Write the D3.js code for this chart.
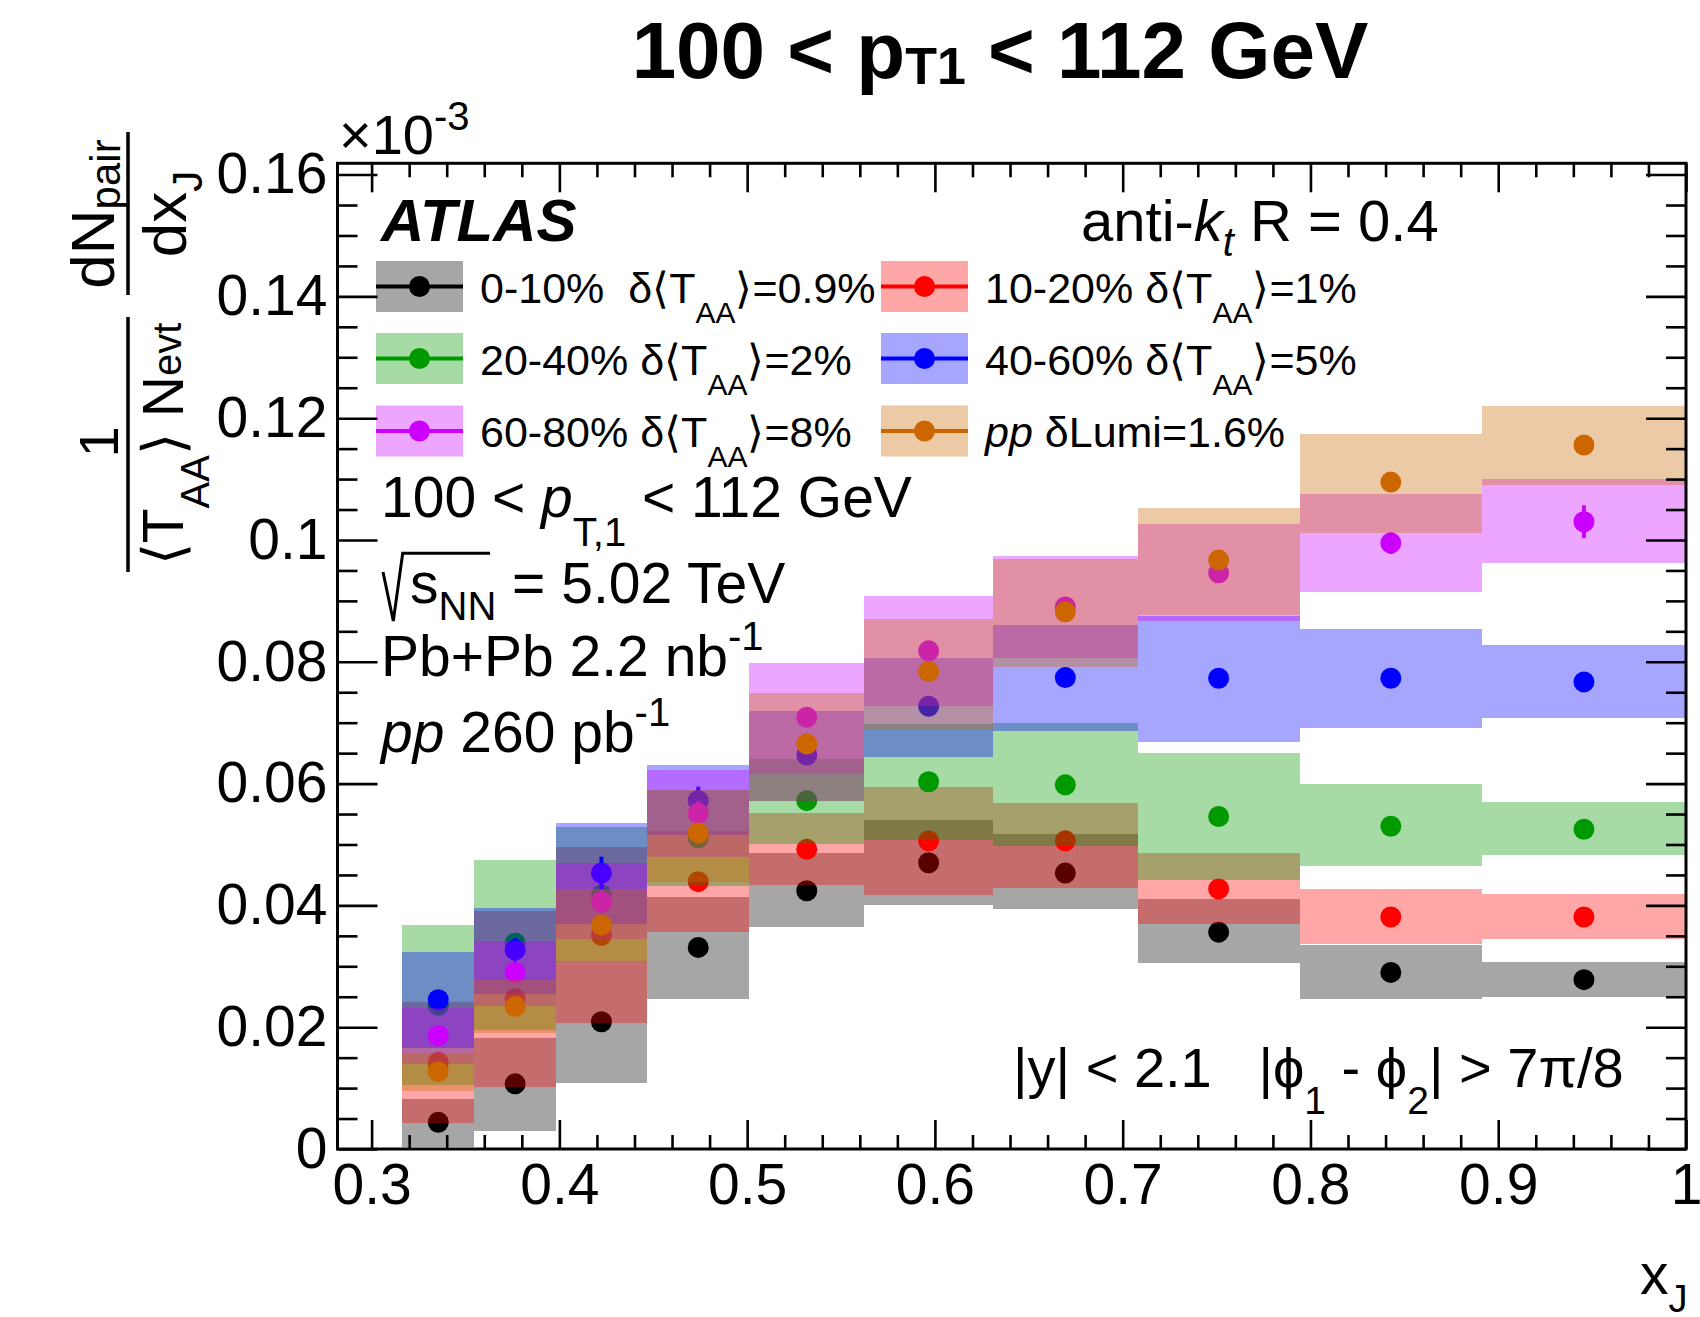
<!DOCTYPE html>
<html><head><meta charset="utf-8">
<script src="https://cdn.jsdelivr.net/npm/d3@7"></script>
<style>
body{margin:0;background:#fff}
text{font-family:"Liberation Sans",Arial,Helvetica,sans-serif;fill:#000;white-space:pre}
</style>
</head><body><svg id="c" width="1700" height="1317" xmlns="http://www.w3.org/2000/svg"></svg>
<script>
// ---------------- data ----------------
const binEdges = [0.3162,0.3548,0.3981,0.4467,0.5012,0.5623,0.6310,0.7079,0.7943,0.8913,1.0];
const xTickValues = [0.3,0.4,0.5,0.6,0.7,0.8,0.9,1.0];
const xTickLabels = ["0.3","0.4","0.5","0.6","0.7","0.8","0.9","1"];
const yTickValues = [0,0.02,0.04,0.06,0.08,0.10,0.12,0.14,0.16];
const yTickLabels = ["0","0.02","0.04","0.06","0.08","0.1","0.12","0.14","0.16"];

const v0_10  = [0.0044,0.0107,0.0209,0.0331,0.0424,0.0470,0.0453,0.0356,0.0290,0.0278];
const lo0_10 = [0.0004,0.0030,0.0108,0.0247,0.0365,0.0401,0.0394,0.0305,0.0247,0.0250];
const hi0_10 = [0.0082,0.0183,0.0308,0.0414,0.0486,0.0540,0.0517,0.0411,0.0335,0.0307];
const st0_10 = [0.0005,0.0006,0.0008,0.0009,0.0009,0.0009,0.0009,0.0008,0.0008,0.0008];

const v10_20  = [0.0142,0.0247,0.0351,0.0439,0.0492,0.0506,0.0506,0.0427,0.0381,0.0381];
const lo10_20 = [0.0042,0.0102,0.0207,0.0357,0.0433,0.0417,0.0428,0.0370,0.0337,0.0345];
const hi10_20 = [0.0242,0.0390,0.0496,0.0522,0.0551,0.0595,0.0568,0.0486,0.0427,0.0418];
const st10_20 = [0.0010,0.0011,0.0012,0.0012,0.0011,0.0011,0.0011,0.0010,0.0010,0.0010];

const v20_40  = [0.0236,0.0338,0.0417,0.0511,0.0572,0.0603,0.0598,0.0546,0.0530,0.0525];
const lo20_40 = [0.0105,0.0195,0.0309,0.0432,0.0501,0.0507,0.0497,0.0442,0.0464,0.0483];
const hi20_40 = [0.0368,0.0475,0.0529,0.0590,0.0640,0.0698,0.0699,0.0650,0.0599,0.0569];
const st20_40 = [0.0012,0.0012,0.0013,0.0013,0.0012,0.0012,0.0012,0.0012,0.0012,0.0012];

const v40_60  = [0.0245,0.0327,0.0453,0.0572,0.0647,0.0727,0.0774,0.0773,0.0773,0.0767];
const lo40_60 = [0.0166,0.0255,0.0369,0.0515,0.0571,0.0644,0.0686,0.0669,0.0692,0.0708];
const hi40_60 = [0.0323,0.0396,0.0535,0.0631,0.0719,0.0807,0.0860,0.0875,0.0854,0.0828];
const st40_60 = [0.0015,0.0019,0.0027,0.0023,0.0015,0.0015,0.0015,0.0015,0.0015,0.0015];

const v60_80  = [0.0186,0.0290,0.0406,0.0551,0.0709,0.0818,0.0890,0.0946,0.0995,0.1030];
const lo60_80 = [0.0139,0.0234,0.0344,0.0479,0.0616,0.0727,0.0807,0.0867,0.0915,0.0963];
const hi60_80 = [0.0232,0.0342,0.0469,0.0622,0.0798,0.0908,0.0974,0.1026,0.1076,0.1100];
const st60_80 = [0.0015,0.0016,0.0018,0.0020,0.0015,0.0015,0.0015,0.0016,0.0018,0.0027];

const vpp  = [0.0127,0.0234,0.0368,0.0519,0.0665,0.0784,0.0882,0.0967,0.1095,0.1156];
const lopp = [0.0096,0.0190,0.0307,0.0439,0.0571,0.0688,0.0792,0.0877,0.1011,0.1090];
const hipp = [0.0157,0.0277,0.0427,0.0590,0.0748,0.0871,0.0969,0.1053,0.1174,0.1220];
const stpp = [0.0004,0.0005,0.0006,0.0006,0.0006,0.0006,0.0006,0.0006,0.0006,0.0006];

const seriesNames = ["0-10%","10-20%","20-40%","40-60%","60-80%","pp"];
const seriesUnc   = ["0.9%","1%","2%","5%","8%","1.6%"];
const seriesColors = ["#000000","#ff0000","#009900","#0000ff","#cc00ff","#cc6600"];

// ---------------- build ----------------
const series = [
  {v:v0_10, lo:lo0_10, hi:hi0_10, st:st0_10},
  {v:v10_20,lo:lo10_20,hi:hi10_20,st:st10_20},
  {v:v20_40,lo:lo20_40,hi:hi20_40,st:st20_40},
  {v:v40_60,lo:lo40_60,hi:hi40_60,st:st40_60},
  {v:v60_80,lo:lo60_80,hi:hi60_80,st:st60_80},
  {v:vpp,   lo:lopp,   hi:hipp,   st:stpp}
].map((s,i)=>Object.assign(s,{name:seriesNames[i],unc:seriesUnc[i],color:seriesColors[i]}));

const FONT = '"Liberation Sans",Arial,Helvetica,sans-serif';
const svg = d3.select("#c");
svg.append("rect").attr("width",1700).attr("height",1317).attr("fill","#fff");

const L=337.5, R=1686, T=163.3, B=1149;
const x = d3.scaleLinear().domain([0.28184,1.0]).range([L,R]);
const y = d3.scaleLinear().domain([0,0.16185]).range([B,T]);

function fillColor(c){const k=d3.color(c); k.opacity=0.35; return k.toString();}

// data layers in order
const plot = svg.append("g");
series.forEach(s=>{
  const g = plot.append("g");
  const idx = d3.range(s.v.length);
  g.selectAll("rect").data(idx).join("rect")
    .attr("x",i=>x(binEdges[i])).attr("width",i=>x(binEdges[i+1])-x(binEdges[i]))
    .attr("y",i=>y(s.hi[i])).attr("height",i=>y(s.lo[i])-y(s.hi[i]))
    .attr("fill",fillColor(s.color)).attr("shape-rendering","crispEdges");
  const cx = i=>x((binEdges[i]+binEdges[i+1])/2);
  g.selectAll("line").data(idx).join("line")
    .attr("x1",cx).attr("x2",cx)
    .attr("y1",i=>y(s.v[i]-s.st[i])).attr("y2",i=>y(s.v[i]+s.st[i]))
    .attr("stroke",s.color).attr("stroke-width",4);
  g.selectAll("circle").data(idx).join("circle")
    .attr("cx",cx).attr("cy",i=>y(s.v[i])).attr("r",10.5).attr("fill",s.color);
});

// ---------------- axes ----------------
const xMinor = d3.range(15,51).filter(i=>i%5!==0).map(i=>i/50);
const yMinor = d3.range(0,33).filter(i=>i%4!==0).map(i=>i*0.005);

function styleAxis(g){
  g.select(".domain").remove();
  g.selectAll("line").attr("stroke","#000").attr("stroke-width",2.6);
  g.selectAll("text").attr("font-size",57).attr("font-family",FONT).attr("fill","#000");
}
svg.append("g").attr("transform",`translate(0,${B})`)
  .call(d3.axisBottom(x).tickValues(xTickValues).tickSize(-29).tickPadding(15).tickFormat((d,i)=>xTickLabels[i])).call(styleAxis);
svg.append("g").attr("transform",`translate(0,${B})`)
  .call(d3.axisBottom(x).tickValues(xMinor).tickSize(-14).tickFormat("")).call(styleAxis);
svg.append("g").attr("transform",`translate(0,${T})`)
  .call(d3.axisTop(x).tickValues(xTickValues).tickSize(-29).tickFormat("")).call(styleAxis);
svg.append("g").attr("transform",`translate(0,${T})`)
  .call(d3.axisTop(x).tickValues(xMinor).tickSize(-14).tickFormat("")).call(styleAxis);
svg.append("g").attr("transform",`translate(${L},0)`)
  .call(d3.axisLeft(y).tickValues(yTickValues).tickSize(-40).tickPadding(10).tickFormat((d,i)=>yTickLabels[i])).call(styleAxis);
svg.append("g").attr("transform",`translate(${L},0)`)
  .call(d3.axisLeft(y).tickValues(yMinor).tickSize(-20).tickFormat("")).call(styleAxis);
svg.append("g").attr("transform",`translate(${R},0)`)
  .call(d3.axisRight(y).tickValues(yTickValues).tickSize(-40).tickFormat("")).call(styleAxis);
svg.append("g").attr("transform",`translate(${R},0)`)
  .call(d3.axisRight(y).tickValues(yMinor).tickSize(-20).tickFormat("")).call(styleAxis);
svg.append("rect").attr("x",L).attr("y",T).attr("width",R-L).attr("height",B-T)
  .attr("fill","none").attr("stroke","#000").attr("stroke-width",3);

// exponent label
const ex = svg.append("text").attr("x",339).attr("y",154).attr("font-size",56);
ex.append("tspan").text("×10");
ex.append("tspan").attr("dy",-24).attr("font-size",40).text("-3");

// ---------------- title ----------------
const tt = svg.append("text").attr("x",1000).attr("y",78).attr("text-anchor","middle")
  .attr("font-size",80).attr("font-weight","bold");
tt.append("tspan").text("100 < p");
tt.append("tspan").attr("font-size",52).attr("dy",6).text("T1");
tt.append("tspan").attr("dy",-6).text(" < 112 GeV");

// ---------------- axis titles ----------------
const xt = svg.append("text").attr("x",1640).attr("y",1294).attr("font-size",57);
xt.append("tspan").text("x");
xt.append("tspan").attr("font-size",38).attr("dy",18).text("J");

const yt = svg.append("g").attr("transform","translate(128,0) rotate(-90)");
yt.append("line").attr("x1",-572).attr("x2",-317).attr("y1",0).attr("y2",0).attr("stroke","#000").attr("stroke-width",3.5);
yt.append("line").attr("x1",-295).attr("x2",-132).attr("y1",0).attr("y2",0).attr("stroke","#000").attr("stroke-width",3.5);
yt.append("text").attr("x",-442).attr("y",-10).attr("text-anchor","middle").attr("font-size",56).text("1");
const yd1 = yt.append("text").attr("x",-444).attr("y",55).attr("text-anchor","middle").attr("font-size",57);
yd1.append("tspan").text("⟨T");
yd1.append("tspan").attr("font-size",40).attr("dy",26).text("AA");
yd1.append("tspan").attr("dy",-26).text("⟩ N");
yd1.append("tspan").attr("font-size",40).attr("dy",-2).text("evt");
const yn2 = yt.append("text").attr("x",-214).attr("y",-14).attr("text-anchor","middle").attr("font-size",62);
yn2.append("tspan").text("dN");
yn2.append("tspan").attr("font-size",42).attr("dy",6).text("pair");
const yd2 = yt.append("text").attr("x",-214).attr("y",58).attr("text-anchor","middle").attr("font-size",62);
yd2.append("tspan").text("dx");
yd2.append("tspan").attr("font-size",42).attr("dy",16).text("J");

// ---------------- labels ----------------
svg.append("text").attr("x",381).attr("y",241).attr("font-size",60)
  .attr("font-weight","bold").attr("font-style","italic").text("ATLAS");
const ak = svg.append("text").attr("x",1081).attr("y",241).attr("font-size",58);
ak.append("tspan").text("anti-");
ak.append("tspan").attr("font-style","italic").text("k");
ak.append("tspan").attr("font-style","italic").attr("font-size",40).attr("dy",15).text("t");
ak.append("tspan").attr("dy",-15).text(" R = 0.4");

// legend
const legPos = [[376,261],[881,261],[376,333],[881,333],[376,405.5],[881,405.5]];
series.forEach((s,i)=>{
  const [bx,by] = legPos[i];
  const g = svg.append("g");
  g.append("rect").attr("x",bx).attr("y",by).attr("width",87).attr("height",51).attr("fill",fillColor(s.color));
  g.append("line").attr("x1",bx).attr("x2",bx+87).attr("y1",by+25.5).attr("y2",by+25.5).attr("stroke",s.color).attr("stroke-width",4);
  g.append("circle").attr("cx",bx+43.5).attr("cy",by+25.5).attr("r",10.5).attr("fill",s.color);
  const t = g.append("text").attr("x",bx+104).attr("y",by+41.5).attr("font-size",43);
  if(s.name==="pp"){
    t.append("tspan").attr("font-style","italic").text("pp");
    t.append("tspan").text(" δLumi="+s.unc);
  } else {
    t.append("tspan").text(s.name + (i===0?"  ":" ") + "δ⟨T");
    t.append("tspan").attr("font-size",30).attr("dy",20).text("AA");
    t.append("tspan").attr("dy",-20).text("⟩="+s.unc);
  }
});

// info text
const a1 = svg.append("text").attr("x",381).attr("y",516.7).attr("font-size",57);
a1.append("tspan").text("100 < ");
a1.append("tspan").attr("font-style","italic").text("p");
a1.append("tspan").attr("font-size",40).attr("dy",29).text("T,1");
a1.append("tspan").attr("dy",-29).text(" < 112 GeV");

svg.append("path").attr("d","M383,572 L393.3,621 L402.7,553.3 L490,553.3")
  .attr("fill","none").attr("stroke","#000").attr("stroke-width",3);
const a2 = svg.append("text").attr("x",410).attr("y",603.3).attr("font-size",57);
a2.append("tspan").text("s");
a2.append("tspan").attr("font-size",40).attr("dy",17).text("NN");
a2.append("tspan").attr("dy",-17).text(" = 5.02 TeV");

const a3 = svg.append("text").attr("x",381).attr("y",675.7).attr("font-size",57);
a3.append("tspan").text("Pb+Pb 2.2 nb");
a3.append("tspan").attr("font-size",40).attr("dy",-26).text("-1");

const a4 = svg.append("text").attr("x",381).attr("y",751.7).attr("font-size",57);
a4.append("tspan").attr("font-style","italic").text("pp");
a4.append("tspan").text(" 260 pb");
a4.append("tspan").attr("font-size",40).attr("dy",-26).text("-1");

const a5 = svg.append("text").attr("x",1013).attr("y",1086.7).attr("font-size",56);
a5.append("tspan").text("|y| < 2.1   |ϕ");
a5.append("tspan").attr("font-size",39).attr("dy",27).text("1");
a5.append("tspan").attr("dy",-27).text(" - ϕ");
a5.append("tspan").attr("font-size",39).attr("dy",27).text("2");
a5.append("tspan").attr("dy",-27).text("| > 7π/8");
</script></body></html>
